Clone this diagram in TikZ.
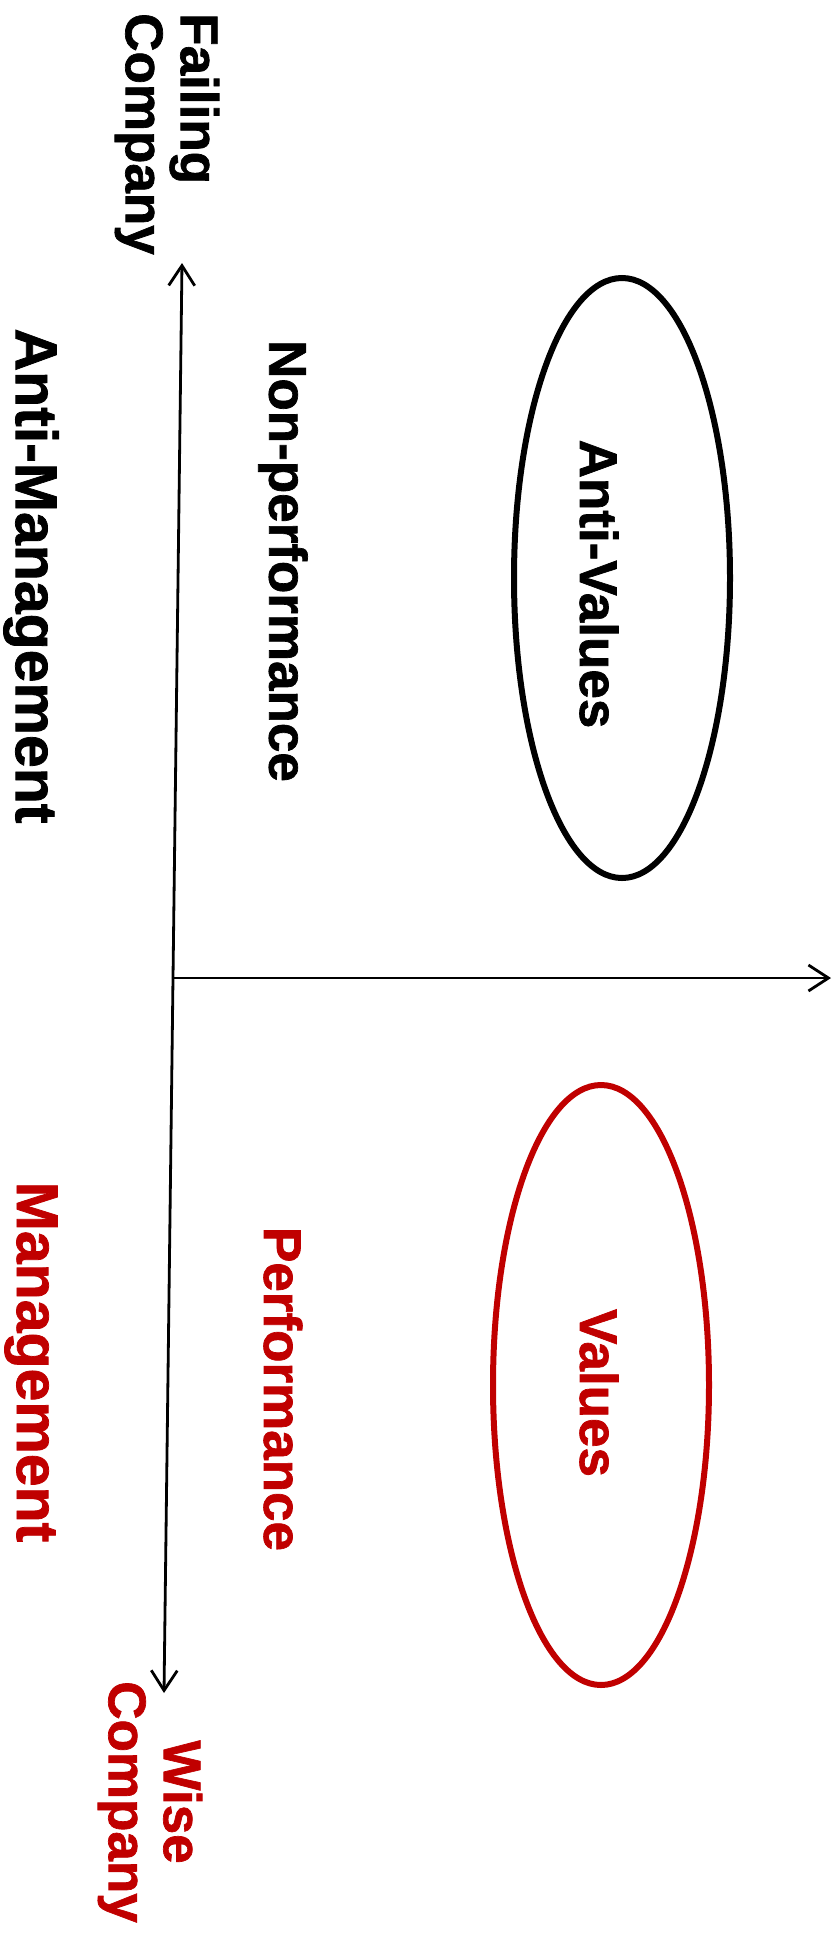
\documentclass[tikz,border=0pt]{standalone}
\usepackage{fontspec}
\setmainfont{Liberation Sans}[BoldFont={Liberation Sans Bold}, BoldFeatures={FakeBold=1.3}]
\usetikzlibrary{shapes.geometric,arrows.meta}
\definecolor{wred}{HTML}{C00000}
\tikzset{
  lbl/.style={rotate=-90, inner sep=0pt, font=\bfseries\fontsize{53}{55}\selectfont, anchor=center},
  biglbl/.style={lbl, font=\bfseries\fontsize{59}{62}\selectfont},
  oval/.style={draw, ellipse, line width=6pt, minimum width=216pt, minimum height=600pt, inner sep=0pt},
  axis/.style={line width=2.8pt, -{Straight Barb[length=20pt,width=26pt,line width=2.8pt]}}
}
\begin{document}
\begin{tikzpicture}[x=1pt,y=-1pt]
\useasboundingbox (0,0) rectangle (839,1944);
% axes
\coordinate (origin) at (173,978);
\coordinate (top) at (182,263);
\coordinate (bottom) at (164,1693);
\coordinate (right) at (831,978);
\draw[axis] (origin) -- (top);
\draw[axis] (origin) -- (bottom);
\draw[axis] (origin) -- (right);
% ovals
\node[oval] (av) at (622,578) {};
\node[oval, draw=wred] (v) at (601,1385) {};
% labels
\node[lbl, align=left] (fail) at (167,134) {Failing\\Company};
\node[lbl, align=center, text=wred] (wise) at (150,1802) {Wise\\Company};
\node[biglbl] (antim) at (31,576) {Anti-Management};
\node[biglbl, text=wred] (man) at (31,1362) {Management};
\node[lbl] (nonp) at (283,561) {Non-performance};
\node[lbl, text=wred] (perf) at (283,1389) {Performance};
\node[lbl] (antiv) at (599,584) {Anti-Values};
\node[lbl, text=wred] (vals) at (599,1393) {Values};
\end{tikzpicture}
\end{document}
